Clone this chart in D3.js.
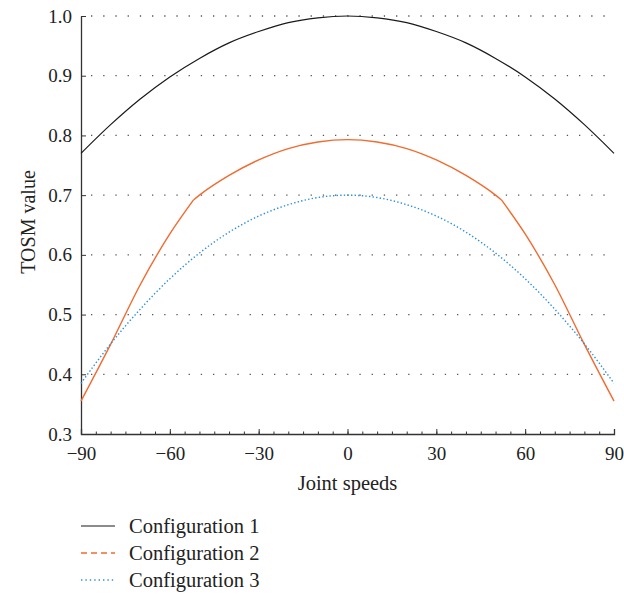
<!DOCTYPE html>
<html>
<head>
<meta charset="utf-8">
<script src="https://cdn.jsdelivr.net/npm/d3@7"></script>
<style>
  body { margin: 0; background: #fff; }
  svg text { font-family: "Liberation Serif", "DejaVu Serif", serif; fill: #222; }
</style>
</head>
<body>
<div id="chart"></div>
<script>
// data
const speeds = [-90, -80, -70, -60, -50, -40, -30, -20, -10, 0, 10, 20, 30, 40, 50, 60, 70, 80, 90];
const config1 = [0.770, 0.818, 0.861, 0.898, 0.929, 0.955, 0.974, 0.989, 0.997, 1.000, 0.997, 0.989, 0.974, 0.955, 0.929, 0.898, 0.861, 0.818, 0.770];
const speeds2 = [-90, -80, -70, -60, -52, -50, -40, -30, -20, -10, 0, 10, 20, 30, 40, 50, 52, 60, 70, 80, 90];
const config2 = [0.355, 0.450, 0.550, 0.635, 0.692, 0.700, 0.733, 0.759, 0.778, 0.789, 0.793, 0.789, 0.778, 0.759, 0.733, 0.700, 0.692, 0.635, 0.550, 0.450, 0.355];
const config3 = [0.385, 0.451, 0.509, 0.560, 0.603, 0.638, 0.665, 0.684, 0.696, 0.700, 0.696, 0.684, 0.665, 0.638, 0.603, 0.560, 0.509, 0.451, 0.385];
const xTicks = [-90, -60, -30, 0, 30, 60, 90];
const yTicks = [0.3, 0.4, 0.5, 0.6, 0.7, 0.8, 0.9, 1.0];
const legendLabels = ["Configuration 1", "Configuration 2", "Configuration 3"];

const margin = {top: 16, right: 10, bottom: 163, left: 81},
    width = 624 - margin.left - margin.right,
    height = 597 - margin.top - margin.bottom;

const svg = d3.select("#chart")
  .append("svg")
    .attr("width", 624)
    .attr("height", 597)
  .append("g")
    .attr("transform", `translate(${margin.left},${margin.top})`);

const x = d3.scaleLinear().domain([-90, 90]).range([0, width]);
const y = d3.scaleLinear().domain([0.3, 1.0]).range([height, 0]);

// dotted grid lines
svg.append("g")
  .selectAll("line")
  .data(yTicks.slice(1))
  .join("line")
    .attr("x1", 0)
    .attr("x2", width)
    .attr("y1", d => y(d))
    .attr("y2", d => y(d))
    .attr("stroke", "#555")
    .attr("stroke-width", 1.3)
    .attr("stroke-dasharray", "1.3,10.9")
    .attr("stroke-dashoffset", -10);

// x axis: minor ticks every 5, major every 30, pointing inwards
const xAxis = svg.append("g").attr("transform", `translate(0,${height})`);
xAxis.call(d3.axisBottom(x).tickValues(d3.range(-90, 91, 5)).tickSize(-2.5).tickFormat(""));
xAxis.call(g => g.select(".domain").remove());
const xMajor = svg.append("g").attr("transform", `translate(0,${height})`)
  .call(d3.axisBottom(x).tickValues(xTicks).tickSize(-5).tickPadding(13)
    .tickFormat(d => d < 0 ? "\u2212" + Math.abs(d) : d));
xMajor.selectAll("text").attr("font-size", 19).attr("font-family", null).attr("dy", "0.71em");
[xAxis, xMajor].forEach(g => {
  g.selectAll("line").attr("stroke", "#333");
  g.select(".domain").attr("stroke", "#333").attr("stroke-width", 1.3);
});

// y axis
const yAxis = svg.append("g")
  .call(d3.axisLeft(y).tickValues(yTicks).tickSize(-5).tickSizeOuter(0).tickPadding(9).tickFormat(d3.format(".1f")));
yAxis.selectAll("text").attr("font-size", 19).attr("font-family", null);
yAxis.selectAll("line").attr("stroke", "#333");
yAxis.select(".domain").attr("stroke", "#333").attr("stroke-width", 1.3);

// lines
const line = (xs) => d3.line()
  .x((d, i) => x(xs[i]))
  .y(d => y(d))
  .curve(d3.curveMonotoneX);

svg.append("path")
  .datum(config1)
  .attr("fill", "none")
  .attr("stroke", "#1a1a1a")
  .attr("stroke-width", 1.2)
  .attr("d", line(speeds));

// configuration 2 has sharp kinks at +-52, so draw it in three pieces
[[0, 5], [4, 17], [16, 21]].forEach(([a, b]) => {
  svg.append("path")
    .datum(config2.slice(a, b))
    .attr("fill", "none")
    .attr("stroke", "#f26a2e")
    .attr("stroke-width", 1.4)
    .attr("stroke-linejoin", "round")
    .attr("d", line(speeds2.slice(a, b)));
});

svg.append("path")
  .datum(config3)
  .attr("fill", "none")
  .attr("stroke", "#2b90d9")
  .attr("stroke-width", 1.4)
  .attr("stroke-dasharray", "1.4,2.2")
  .attr("d", line(speeds));

// axis labels
svg.append("text")
  .attr("text-anchor", "middle")
  .attr("x", width / 2)
  .attr("y", height + 56)
  .attr("font-size", 20.5)
  .text("Joint speeds");

svg.append("text")
  .attr("text-anchor", "middle")
  .attr("transform", `translate(${-46},${height / 2 - 3}) rotate(-90)`)
  .attr("font-size", 20)
  .text("TOSM value");

// legend
const styles = [
  {stroke: "#1a1a1a", dash: null, w: 1.2},
  {stroke: "#f26a2e", dash: "6,4", w: 1.4},
  {stroke: "#2b90d9", dash: "1.4,3", w: 1.4}
];
const legend = svg.append("g")
  .selectAll("g")
  .data(legendLabels)
  .join("g")
    .attr("transform", (d, i) => `translate(0,${height + 92 + i * 27})`);

legend.append("line")
  .attr("x1", 0)
  .attr("x2", 34)
  .attr("stroke", (d, i) => styles[i].stroke)
  .attr("stroke-width", (d, i) => styles[i].w)
  .attr("stroke-dasharray", (d, i) => styles[i].dash);

legend.append("text")
  .attr("x", 48)
  .attr("dy", "0.33em")
  .attr("font-size", 20.5)
  .text(d => d);
</script>
</body>
</html>
